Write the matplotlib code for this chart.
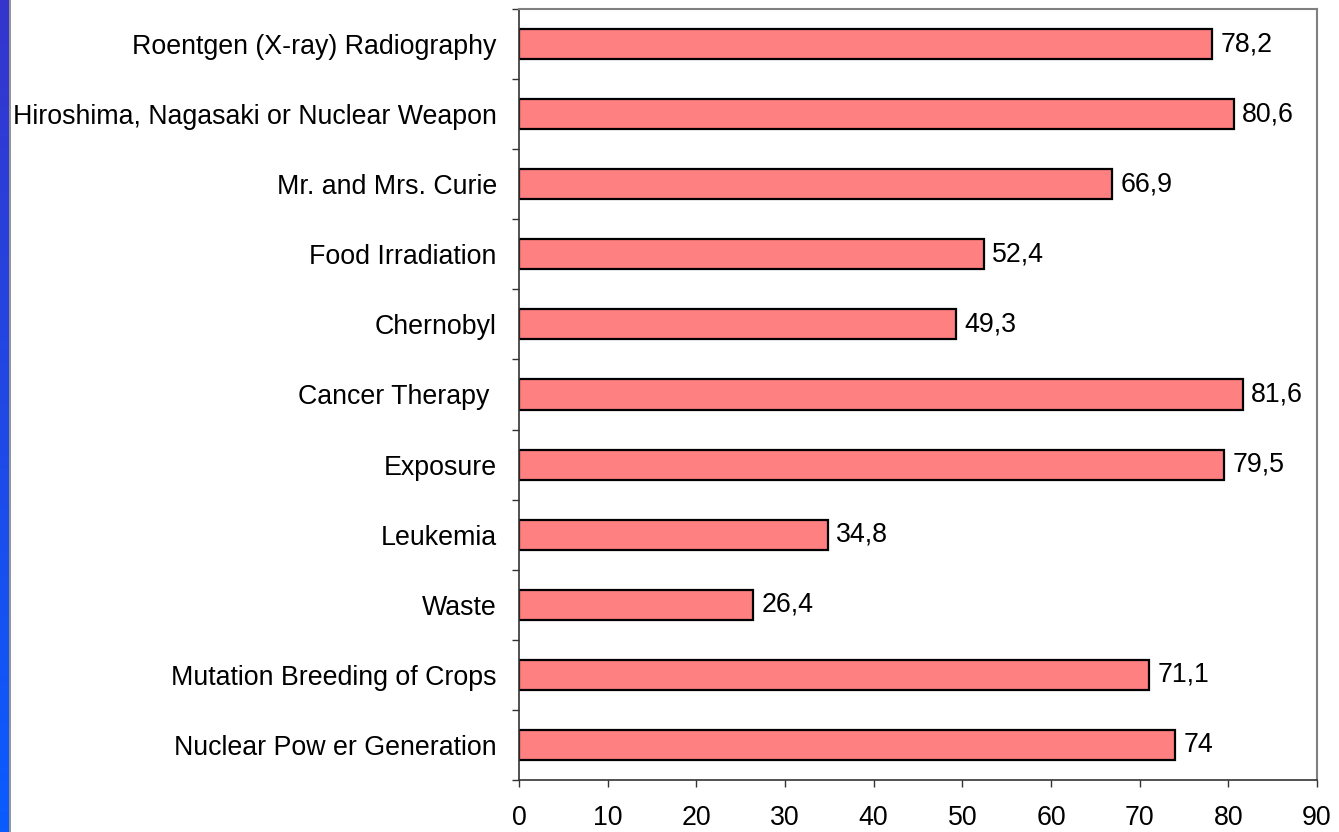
import matplotlib
matplotlib.use("Agg")
import matplotlib.pyplot as plt
import numpy as np
from matplotlib.ticker import FixedLocator
from matplotlib.colors import LinearSegmentedColormap

categories = ["Nuclear Pow er Generation", "Mutation Breeding of Crops", "Waste", "Leukemia",
              "Exposure", "Cancer Therapy ", "Chernobyl", "Food Irradiation",
              "Mr. and Mrs. Curie", "Hiroshima, Nagasaki or Nuclear Weapon",
              "Roentgen (X-ray) Radiography"]
values = [74, 71.1, 26.4, 34.8, 79.5, 81.6, 49.3, 52.4, 66.9, 80.6, 78.2]
x_ticks = [0, 10, 20, 30, 40, 50, 60, 70, 80, 90]

plt.rcParams['font.family'] = ['Liberation Sans', 'DejaVu Sans']
FS = 19.3

W, H = 1339, 832
fig = plt.figure(figsize=(W / 100, H / 100), dpi=100)

# left blue gradient strip
strip = fig.add_axes([0, 0, 9 / W, 1])
grad = np.linspace(0, 1, 256).reshape(-1, 1)
cmap = LinearSegmentedColormap.from_list("b", ["#3535cc", "#0a5cff"])
strip.imshow(grad, aspect='auto', cmap=cmap, extent=[0, 1, 0, 1], origin='upper')
strip.axis('off')
fig.add_artist(plt.Line2D([9.5 / W, 9.5 / W], [0, 1], color='#808080', lw=1.2, transform=fig.transFigure))

ax = fig.add_axes([519 / W, 1 - 780 / H, (1317 - 519) / W, (780 - 9) / H])
y = np.arange(len(categories))
ax.barh(y, values, height=0.43, color='#FF8080', edgecolor='black', linewidth=1.6)
for yi, v in zip(y, values):
    lbl = (f"{v:g}").replace('.', ',')
    ax.text(v + 0.95, yi, lbl, va='center', ha='left', fontsize=FS)

ax.set_xlim(0, 90)
ax.set_ylim(-0.5, len(categories) - 0.5)
ax.set_xticks(x_ticks)
ax.set_xticklabels([str(t) for t in x_ticks], fontsize=FS)
ax.set_yticks(y)
ax.set_yticklabels(categories, fontsize=FS)
ax.tick_params(axis='y', which='major', length=0, pad=16)
ax.yaxis.set_minor_locator(FixedLocator(np.arange(-0.5, len(categories), 1.0)))
ax.tick_params(axis='y', which='minor', length=5, width=1, color='#333333')
ax.tick_params(axis='x', which='major', length=5, width=1, color='#333333', pad=13)
for s in ['top', 'right']:
    ax.spines[s].set_color('#808080')
    ax.spines[s].set_linewidth(1.5)
for s in ['left', 'bottom']:
    ax.spines[s].set_color('#333333')
    ax.spines[s].set_linewidth(1.2)

fig.savefig("out.png", dpi=100)
